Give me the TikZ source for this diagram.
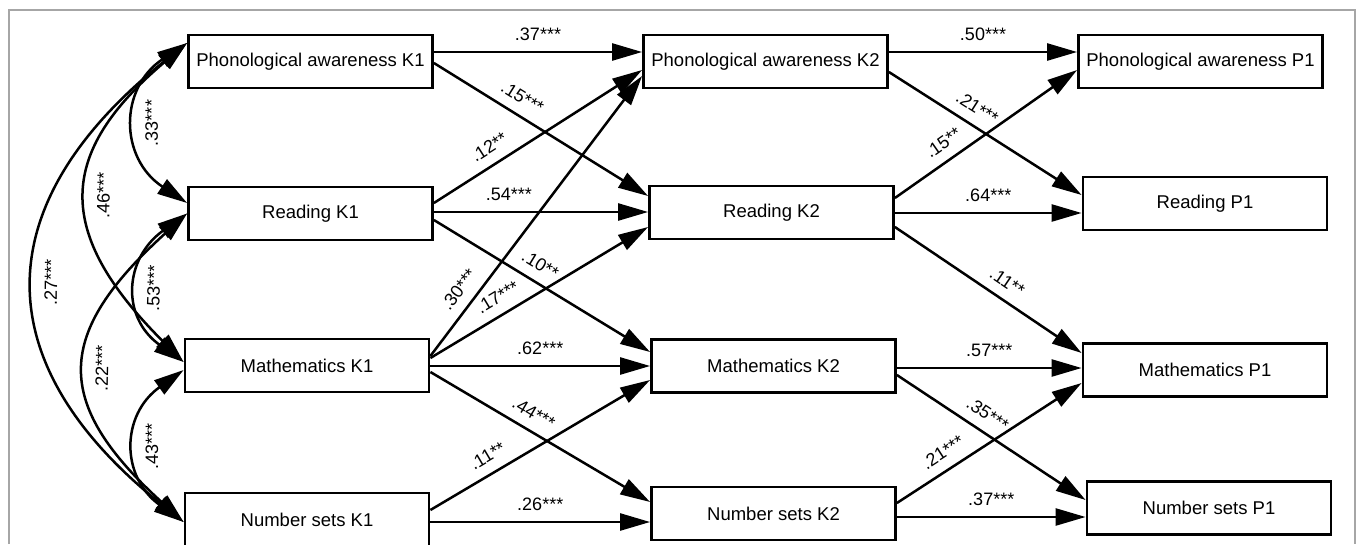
\documentclass[tikz,border=0pt]{standalone}
\usepackage{fontspec}
\setmainfont{Liberation Sans}
\usetikzlibrary{arrows.meta}

\tikzset{
  varbox/.style={draw, line width=2.8pt, minimum width=244pt, minimum height=53pt,
    inner sep=0pt, font=\fontsize{18.5}{20}\selectfont},
  reg/.style={line width=2.5pt, -{Triangle[length=30pt,width=17pt]}},
  cov/.style={line width=2.5pt, {Triangle[length=30pt,width=17pt]}-{Triangle[length=30pt,width=17pt]}},
  coef/.style={font=\fontsize{18}{20}\selectfont, inner sep=1pt},
}

\begin{document}
\begin{tikzpicture}[x=1pt, y=1pt]
    \useasboundingbox (0,0) rectangle (1358,-544);
    \draw [black!35, line width=1.2pt] (9,-544) |- (1355,-10) -- (1355,-544);

    % K1
    \node [varbox] (pk1) at (310.5,-61.5) {Phonological awareness K1};
    \node [varbox] (rk1) at (310.5,-213.5) {Reading K1};
    \node [varbox] (mk1) at (307,-365.5) {Mathematics K1};
    \node [varbox] (nk1) at (307,-519.5) {Number sets K1};

    % K2
    \node [varbox] (pk2) at (765.5,-61.5) {Phonological awareness K2};
    \node [varbox] (rk2) at (771.5,-212.5) {Reading K2};
    \node [varbox] (mk2) at (773.5,-366) {Mathematics K2};
    \node [varbox] (nk2) at (773.5,-513.5) {Number sets K2};

    % P1
    \node [varbox] (pp1) at (1200.5,-61.5) {Phonological awareness P1};
    \node [varbox] (rp1) at (1205,-203.5) {Reading P1};
    \node [varbox] (mp1) at (1205,-370) {Mathematics P1};
    \node [varbox] (np1) at (1209,-508) {Number sets P1};

    % K1 -> K2
    \draw [reg] ([yshift=9.5pt]pk1.east) -- node [coef, above=9pt] {.37***} ([yshift=9.5pt]pk2.west);
    \draw [reg] ([yshift=-1.5pt]pk1.east) -- node [coef, pos=0.37, sloped, above=9pt] {.15***} ([yshift=16.5pt]rk2.west);
    \draw [reg] ([yshift=10.5pt]rk1.east) -- node [coef, pos=0.31, sloped, above=9pt] {.12**} ([yshift=-8.5pt]pk2.west);
    \draw [reg] ([yshift=1.5pt]rk1.east) -- node [coef, pos=0.35, above=9pt] {.54***} ([yshift=0.5pt]rk2.west);
    \draw [reg] ([yshift=-6.5pt]rk1.east) -- node [coef, pos=0.45, sloped, above=9pt] {.10**} ([yshift=14pt]mk2.west);
    \draw [reg] ([yshift=9.5pt]mk1.east) -- node [coef, pos=0.2, sloped, above=9pt] {.30***} ([yshift=-14.5pt]pk2.west);
    \draw [reg] ([yshift=7.5pt]mk1.east) -- node [coef, pos=0.35, sloped, above=9pt] {.17***} ([yshift=-14.5pt]rk2.west);
    \draw [reg] ([yshift=-0.5pt]mk1.east) -- node [coef, above=9pt] {.62***} (mk2.west);
    \draw [reg] ([yshift=-6.5pt]mk1.east) -- node [coef, pos=0.43, sloped, above=9pt] {.44***} ([yshift=11.5pt]nk2.west);
    \draw [reg] ([yshift=9.5pt]nk1.east) -- node [coef, pos=0.3, sloped, above=9pt] {.11**} ([yshift=-14pt]mk2.west);
    \draw [reg] ([yshift=-2.5pt]nk1.east) -- node [coef, above=9pt] {.26***} ([yshift=-8.5pt]nk2.west);

    % K2 -> P1
    \draw [reg] ([yshift=9.5pt]pk2.east) -- node [coef, above=9pt] {.50***} ([yshift=9.5pt]pp1.west);
    \draw [reg] ([yshift=-10.5pt]pk2.east) -- node [coef, pos=0.41, sloped, above=9pt] {.21***} ([yshift=8.5pt]rp1.west);
    \draw [reg] ([yshift=14.5pt]rk2.east) -- node [coef, pos=0.32, sloped, above=9pt] {.15**} ([yshift=-8.5pt]pp1.west);
    \draw [reg] ([yshift=-0.5pt]rk2.east) -- node [coef, above=9pt] {.64***} ([yshift=-9.5pt]rp1.west);
    \draw [reg] ([yshift=-14.5pt]rk2.east) -- node [coef, pos=0.55, sloped, above=9pt] {.11**} ([yshift=17pt]mp1.west);
    \draw [reg] ([yshift=-2pt]mk2.east) -- node [coef, above=9pt] {.57***} ([yshift=2pt]mp1.west);
    \draw [reg] ([yshift=-9pt]mk2.east) -- node [coef, pos=0.43, sloped, above=9pt] {.35***} ([yshift=8pt]np1.west);
    \draw [reg] ([yshift=10.5pt]nk2.east) -- node [coef, pos=0.3, sloped, above=9pt] {.21***} ([yshift=-13pt]mp1.west);
    \draw [reg] ([yshift=-3.5pt]nk2.east) -- node [coef, above=9pt] {.37***} ([yshift=-9pt]np1.west);

    % correlations among K1
    \draw [cov] ([yshift=10.5pt]rk1.west) .. controls +(-68,45) and +(-68,-45) .. node [coef, sloped, below=7pt] {.33***} ([yshift=18.5pt]pk1.west);
    \draw [cov] ([yshift=3.5pt]mk1.west) .. controls +(-130,130) and +(-130,-110) .. node [coef, sloped, below=7pt] {.46***} ([yshift=18.5pt]pk1.west);
    \draw [cov] ([yshift=-2.5pt]nk1.west) .. controls +(-200,160) and +(-200,-160) .. node [coef, sloped, below=7pt] {.27***} ([yshift=18.5pt]pk1.west);
    \draw [cov] ([yshift=3.5pt]mk1.west) .. controls +(-63,45) and +(-63,-45) .. node [coef, sloped, below=7pt] {.53***} (rk1.west);
    \draw [cov] ([yshift=-2.5pt]nk1.west) .. controls +(-132,120) and +(-132,-120) .. node [coef, sloped, below=7pt] {.22***} (rk1.west);
    \draw [cov] ([yshift=-2.5pt]nk1.west) .. controls +(-63,45) and +(-63,-45) .. node [coef, sloped, below=7pt] {.43***} ([yshift=-4.5pt]mk1.west);
\end{tikzpicture}
\end{document}
